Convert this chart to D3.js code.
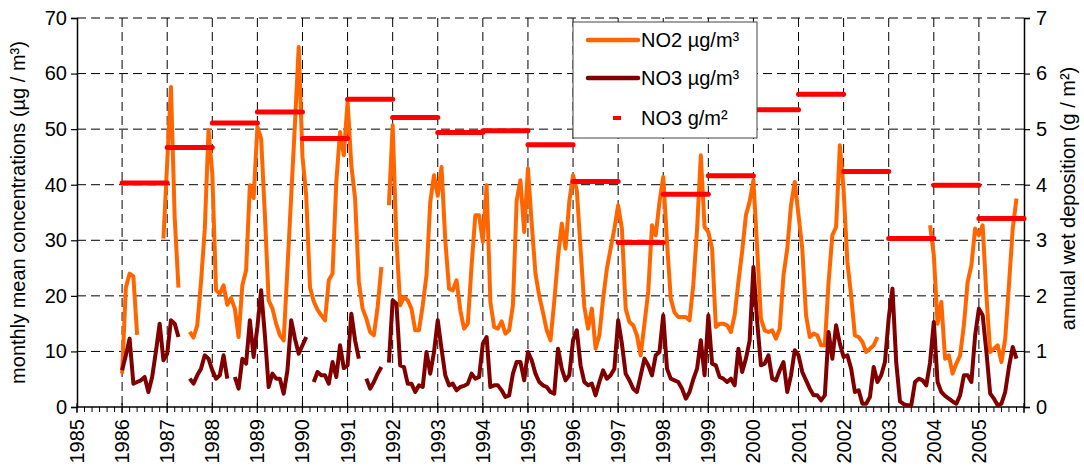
<!DOCTYPE html>
<html><head><meta charset="utf-8">
<script src="https://cdn.jsdelivr.net/npm/d3@7"></script>
<style>
body{margin:0;background:#fff;}
svg text{font-family:"Liberation Sans",Arial,sans-serif;fill:#000;}
</style>
</head><body>
<svg id="chart" width="1084" height="472"></svg>
<script>
// ---- data (monthly, Jan..Dec per row), 1986..2005 ----
const years = d3.range(1986, 2006);
const no2 = [
/*1986*/ 6, 21.5, 24, 23.5, 13, null, null, null, null, null, null, 30.3,
/*1987*/ 44, 57.6, 34, 21.5, null, null, 13.5, 12.5, 14.7, 22.5, 32, 49.8,
/*1988*/ 42, 21, 20.4, 21.9, 18.4, 19.6, 17.7, 12.6, 21.9, 24.6, 39.9, 37.6,
/*1989*/ 50.4, 48.3, 34.5, 19.2, 17.7, 15, 12.9, 12, 24.9, 38, 51, 64.8,
/*1990*/ 45, 38, 21.5, 19, 17.5, 16.5, 15.6, 22.8, 24, 40.5, 49.5, 45.3,
/*1991*/ 55, 43.5, 37.5, 22.5, 17.7, 15.9, 13.5, 12.9, 18, 25.2, null, 36.3,
/*1992*/ 50.7, 30, 18.3, 19.8, 19.2, 17.7, 13.8, 13.8, 18.3, 23.7, 36.9, 41.7,
/*1993*/ 38, 43.2, 30, 21.3, 21, 22.8, 17.4, 14.1, 15, 25.5, 34.5, 34.5,
/*1994*/ 29.7, 39.9, 18.9, 14.4, 14.1, 15.4, 13.2, 13.8, 18.3, 37.2, 40.8, 31.5,
/*1995*/ 42.9, 33, 24, 20, 17, 13.8, 12, 19, 27, 33, 28.5, 37,
/*1996*/ 41.7, 39, 28.5, 18, 14.1, 17.7, 10.5, 12.9, 19.5, 24.9, 28.5, 32.1,
/*1997*/ 36.3, 32.1, 17.7, 15.3, 14.7, 12.9, 9.3, 15, 20.7, 32.7, 30.9, 36.9,
/*1998*/ 41.4, 29.7, 19.5, 17, 16.2, 16.2, 16.2, 15.6, 22, 32, 45.3, 32.4,
/*1999*/ 31.5, 28.5, 14.4, 15, 15, 14.7, 13.5, 16.5, 22.5, 28, 34.5, 37,
/*2000*/ 40.8, 28.5, 15.9, 13.8, 13.5, 13.8, 12.3, 14.1, 23.7, 28.5, 36.3, 40.5,
/*2001*/ 34.5, 28.5, 16.5, 12.6, 13.2, 12.9, 11.1, 11.1, 22.5, 30.9, 32.4, 47.1,
/*2002*/ 39, 26.1, 20, 12.9, 12.6, 11.7, 9.9, 10.5, 11.1, 12.6, null, null,
/*2003*/ null, null, null, null, null, null, null, null, null, null, null, 32.7,
/*2004*/ 27.3, 15, 18.9, 8.7, 9.3, 6, 7.8, 9.3, 14.7, 22.5, 25.5, 32.1,
/*2005*/ 30.9, 32.7, 20, 9.9, 10.5, 11.1, 8.1, 12.3, 22, 32.1, 37.5, null
];
const no3 = [
/*1986*/ 6.6, 9.3, 12.3, 4.2, 4.5, 4.8, 5.4, 2.7, 5.4, 10, 15, 8.4,
/*1987*/ 9.6, 15.6, 15, 12.6, null, null, 5.1, 4.2, 5.7, 6.9, 9.3, 8.7,
/*1988*/ 6.6, 5.1, 5.7, 9.3, 5.1, null, 5.4, 3.3, 8.7, 7.8, 15.6, 9,
/*1989*/ 14.4, 21, 12.9, 3.6, 6, 5.1, 5.1, 2.4, 6.6, 15.6, 12.3, 9.6,
/*1990*/ 11.1, 12.6, null, 4.5, 6.3, 5.7, 5.7, 4.2, 8.1, 5.4, 11.1, 7,
/*1991*/ 7.5, 16.8, 12, 8.7, null, 5.1, 3.3, 4.5, 6, 7.2, null, 8,
/*1992*/ 19.2, 18.6, 7.5, 7.2, 4.2, 4.2, 2.7, 3.9, 3.6, 9.9, 6, 9.9,
/*1993*/ 15.6, 10.5, 5.7, 3.9, 4.2, 3, 3.6, 3.8, 4.2, 6, 5.1, 5.4,
/*1994*/ 11.4, 12.6, 3.6, 3.9, 3.9, 3, 1.8, 2.1, 6, 8.1, 8.1, 4.8,
/*1995*/ 9.9, 8.4, 6, 4.5, 3.9, 3.6, 2.7, 2.4, 10.5, 6.9, 4.8, 5.7,
/*1996*/ 12, 13.8, 7.5, 4.5, 3.9, 4.2, 2.1, 4.5, 6.6, 5.1, 5.7, 6.9,
/*1997*/ 15.6, 11.4, 6, 4.8, 3.3, 2.7, 5.7, 8.7, 7.5, 5.7, 9.3, 9.9,
/*1998*/ 16.5, 6.9, 5.1, 4.8, 4.5, 3.3, 1.5, 2.7, 5, 6.9, 12, 5.7,
/*1999*/ 16.5, 7.8, 7.5, 5.4, 5.1, 4.5, 5.1, 3.9, 10.5, 6.3, 8.7, 12,
/*2000*/ 25.2, 15.3, 7.5, 7.8, 9.3, 5.1, 4.8, 6.6, 8.1, 2.7, 5.7, 10.2,
/*2001*/ 9.3, 6.3, 4.8, 3.3, 2.1, 2.1, 1.2, 2.1, 13.5, 8.7, 14.7, 11.4,
/*2002*/ 9, 9.3, 6.9, 2.7, 3, 0.6, 0.6, 1.8, 7.2, 4.5, 5.7, 8.1,
/*2003*/ 16, 21.3, 8, 1, 0.5, 0.3, 0.3, 4.5, 5.1, 4.8, 3.9, 8,
/*2004*/ 15.3, 4.5, 2.7, 2, 1.5, 1, 0.6, 2.1, 5.7, 5.7, 4.5, 12.9,
/*2005*/ 17.7, 16.5, 9.9, 2.4, 1.5, 0.3, 0.6, 2.7, 7.2, 10.8, 8.7, null
];
const deposition = [4.03, 4.67, 5.11, 5.31, 4.83, 5.54, 5.21, 4.94, 4.97, 4.72,
                    4.06, 2.96, 3.83, 4.16, 5.35, 5.63, 4.24, 3.03, 3.99, 3.39];
const leftTicks = [0, 10, 20, 30, 40, 50, 60, 70];
const rightTicks = [0, 1, 2, 3, 4, 5, 6, 7];
const xTickYears = d3.range(1985, 2006);
const legendItems = ["NO2 µg/m³", "NO3 µg/m³", "NO3 g/m²"];

// ---- layout ----
const svg = d3.select("#chart");
const L = 77, R = 1024, T = 18, B = 407;
const x = d3.scaleLinear().domain([1985, 2006]).range([L, R]);
const yL = d3.scaleLinear().domain([0, 70]).range([B, T]);
const yR = d3.scaleLinear().domain([0, 7]).range([B, T]);
const FS = 20;

const months = d3.range(no2.length).map(i => 1986 + i / 12);

// gridlines
const grid = svg.append("g").attr("stroke", "#000").attr("stroke-width", 1)
  .attr("stroke-dasharray", "9,5").attr("fill", "none");
leftTicks.filter(d => d > 0).forEach(d => {
  grid.append("line").attr("x1", L).attr("x2", R).attr("y1", yL(d)).attr("y2", yL(d));
});
xTickYears.filter(d => d > 1985).forEach(d => {
  grid.append("line").attr("x1", x(d)).attr("x2", x(d)).attr("y1", T).attr("y2", B);
});

// axes
const axisG = svg.append("g");
const leftAxis = d3.axisLeft(yL).tickValues(leftTicks).tickSize(6).tickPadding(4).tickFormat(d3.format("d"));
const gl = axisG.append("g").attr("transform", `translate(${L},0)`).call(leftAxis);
const rightAxis = d3.axisRight(yR).tickValues(rightTicks).tickSize(6).tickPadding(6).tickFormat(d3.format("d"));
const gr = axisG.append("g").attr("transform", `translate(${R},0)`).call(rightAxis);
[gl, gr].forEach(g => {
  g.select(".domain").attr("stroke", "#000").attr("stroke-width", 1.5);
  g.selectAll(".tick line").attr("stroke", "#000").attr("stroke-width", 1.2);
  g.selectAll("text").attr("font-size", FS).attr("font-family", "Liberation Sans, Arial, sans-serif").attr("fill", "#000");
});

// bottom axis with minor ticks every 2 months
const bx = axisG.append("g");
bx.append("line").attr("x1", L).attr("x2", R).attr("y1", B).attr("y2", B).attr("stroke", "#000").attr("stroke-width", 1.5);
const minor = d3.range(0, 21 * 6 + 1).map(i => 1985 + i / 6);
bx.selectAll(".mn").data(minor).join("line")
  .attr("x1", d => x(d)).attr("x2", d => x(d))
  .attr("y1", B).attr("y2", B + 5).attr("stroke", "#000").attr("stroke-width", 1);
bx.selectAll(".mj").data(xTickYears.concat([2006])).join("line")
  .attr("x1", d => x(d)).attr("x2", d => x(d))
  .attr("y1", B - 4).attr("y2", B + 6).attr("stroke", "#000").attr("stroke-width", 1.2);
bx.selectAll(".xl").data(xTickYears).join("text")
  .attr("transform", d => `translate(${x(d)},${B + 12}) rotate(-90)`)
  .attr("text-anchor", "end").attr("dominant-baseline", "central")
  .attr("font-size", FS).text(d => d);

// axis titles
svg.append("text").attr("transform", `translate(18,${(T + B) / 2}) rotate(-90)`)
  .attr("text-anchor", "middle").attr("dominant-baseline", "central")
  .attr("font-size", FS).text("monthly mean concentrations (µg / m³)");
svg.append("text").attr("transform", `translate(1068,${(T + B) / 2 - 14}) rotate(-90)`)
  .attr("text-anchor", "middle").attr("dominant-baseline", "central")
  .attr("font-size", FS).text("annual wet deposition (g / m²)");

// series
const lineL = d3.line().defined(d => d.v != null).x(d => x(d.t)).y(d => yL(d.v));
const no2Data = months.map((t, i) => ({ t, v: no2[i] }));
const no3Data = months.map((t, i) => ({ t, v: no3[i] }));
svg.append("path").datum(no2Data).attr("d", lineL).attr("fill", "none")
  .attr("stroke", "#FF6600").attr("stroke-width", 4).attr("stroke-linejoin", "round");
svg.append("path").datum(no3Data).attr("d", lineL).attr("fill", "none")
  .attr("stroke", "#800000").attr("stroke-width", 4).attr("stroke-linejoin", "round");
svg.append("g").selectAll("line").data(years).join("line")
  .attr("x1", d => x(d)).attr("x2", d => x(d + 1))
  .attr("y1", (d, i) => yR(deposition[i])).attr("y2", (d, i) => yR(deposition[i]))
  .attr("stroke", "#FF0000").attr("stroke-width", 5).attr("stroke-linecap", "round");

// legend
const lg = svg.append("g");
lg.append("rect").attr("x", 573).attr("y", 22).attr("width", 184).attr("height", 116)
  .attr("fill", "#fff").attr("stroke", "#444").attr("stroke-width", 1);
const ly = [40, 78, 118];
lg.append("line").attr("x1", 588).attr("x2", 638).attr("y1", ly[0]).attr("y2", ly[0])
  .attr("stroke", "#FF6600").attr("stroke-width", 4.5).attr("stroke-linecap", "round");
lg.append("line").attr("x1", 588).attr("x2", 638).attr("y1", ly[1]).attr("y2", ly[1])
  .attr("stroke", "#800000").attr("stroke-width", 4.5).attr("stroke-linecap", "round");
lg.append("rect").attr("x", 613).attr("y", ly[2] - 2).attr("width", 8).attr("height", 4).attr("fill", "#FF0000");
lg.selectAll("text").data(legendItems).join("text")
  .attr("x", 641).attr("y", (d, i) => ly[i]).attr("dominant-baseline", "central")
  .attr("font-size", FS).text(d => d);
</script>
</body></html>
